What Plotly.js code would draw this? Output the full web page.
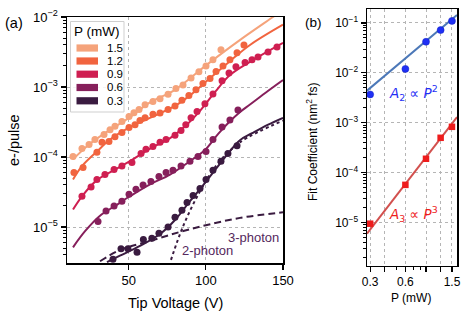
<!DOCTYPE html>
<html><head><meta charset="utf-8">
<script src="https://cdn.plot.ly/plotly-3.0.1.min.js"></script>
<style>html,body{margin:0;padding:0;background:#fff}#chart{width:469px;height:316px}</style>
</head><body><div id="chart"></div>
<script>
// ---------- Panel (a) data: tip voltage (V) vs electrons per pulse ----------
const powers = ['1.5', '1.2', '0.9', '0.6', '0.3'];

const v15 = [13.9,19.7,24.3,28.1,34.0,37.9,41.1,45.6,50.2,53.4,56.7,60.6,65.7,70.3,75.5,80.6,85.2,90.4,95.5,100.1,104.6,109.8];
const y15 = [1.02e-4,1.32e-4,1.51e-4,1.78e-4,2.09e-4,2.45e-4,2.74e-4,3.22e-4,3.8e-4,4.3e-4,4.76e-4,5.6e-4,6.2e-4,6.8e-4,7.9e-4,9.5e-4,1.07e-3,1.35e-3,1.65e-3,2.0e-3,2.45e-3,3.4e-3];
const fv15 = [13.9,24.9,37.9,50.2,63.8,80,100.7,122,143.5,150];
const fy15 = [9.3e-5,1.55e-4,2.45e-4,3.63e-4,6.03e-4,9.12e-4,2.09e-3,4.68e-3,1.0e-2,1.26e-2];

const v12 = [14.5,20.4,29.4,32.7,37.2,41.1,45.6,50.2,54.1,57.3,60.6,65.7,70.3,75.5,80.0,84.5,89.0,93.6,98.1,102.7,106.6,111.1,115.6,120.2,124.7];
const y12 = [6.0e-5,7.1e-5,1.17e-4,1.62e-4,1.66e-4,1.95e-4,2.24e-4,2.63e-4,2.88e-4,3.31e-4,3.63e-4,4.07e-4,4.27e-4,4.79e-4,5.37e-4,6.46e-4,7.59e-4,9.12e-4,1.12e-3,1.32e-3,1.66e-3,2.0e-3,2.45e-3,3.09e-3,3.98e-3];
const fv12 = [13.9,19.7,29.4,37.9,50.2,63.8,80,89.7,100.7,115.6,128.6,150];
const fy12 = [4.79e-5,7.41e-5,1.20e-4,1.78e-4,2.63e-4,3.63e-4,5.37e-4,7.59e-4,1.23e-3,2.34e-3,3.98e-3,7.76e-3];

const v09 = [19.7,25.6,29.4,34.6,40.5,45.6,52.1,58.0,61.2,65.7,70.3,74.2,80.0,83.9,87.0,90.4,94.3,99.4,104.6,110.5,115.0,119.5,125.4,129.9,133.8,140.3,146.1];
const y09 = [2.75e-5,3.72e-5,4.79e-5,5.62e-5,6.61e-5,7.41e-5,8.32e-5,1.12e-4,1.29e-4,1.41e-4,1.62e-4,1.78e-4,2.04e-4,2.40e-4,2.9e-4,3.63e-4,4.47e-4,5.75e-4,7.94e-4,1.23e-3,1.58e-3,1.95e-3,2.24e-3,2.45e-3,2.69e-3,3.16e-3,3.72e-3];
const fv09 = [13.9,19.7,29.4,41.1,50.8,63.8,76.8,86.5,96.2,106,115.6,128.6,150];
const fy09 = [1.78e-5,2.75e-5,4.68e-5,6.61e-5,8.71e-5,1.32e-4,1.86e-4,2.75e-4,4.57e-4,8.51e-4,1.48e-3,2.29e-3,4.27e-3];

const v06 = [30.1,35.3,40.5,45.6,50.2,54.7,59.3,64.4,69.6,74.2,78.7,83.9,89.7,94.9,100.1,104.6,110.5,115.6,120.8];
const y06 = [1.20e-5,1.70e-5,2.00e-5,2.34e-5,2.95e-5,3.47e-5,3.98e-5,4.47e-5,5.25e-5,6.03e-5,6.46e-5,7.41e-5,8.71e-5,1.02e-4,1.20e-4,1.78e-4,2.69e-4,3.39e-4,4.68e-4];
const fv06 = [13.9,21.7,31.4,41.1,50.8,63.8,76.8,89.7,99.4,108,115.6,122,128.6,140,150];
const fy06 = [5.13e-6,8.71e-6,1.45e-5,2.0e-5,2.75e-5,4.07e-5,5.62e-5,8.71e-5,1.26e-4,2.14e-4,3.24e-4,4.37e-4,5.62e-4,8.71e-4,1.26e-3];

const v03 = [39.8,45.0,49.5,55.4,59.5,65.0,69.6,75.5,80.0,84.5,87.8,91.7,96.2,100.1,104.6,109.8,114.3,120.2];
const y03 = [3.47e-6,4.90e-6,4.90e-6,4.37e-6,6.61e-6,6.92e-6,8.13e-6,1.0e-5,1.38e-5,1.74e-5,2.24e-5,2.82e-5,3.55e-5,4.79e-5,6.46e-5,8.71e-5,1.12e-4,1.45e-4];
const fv03 = [35.9,44.3,57.3,70.3,80,89.7,96.2,107.9,115,122.1,130,140,150];
const fy03 = [3.16e-6,3.89e-6,5.37e-6,7.94e-6,1.26e-5,2.34e-5,3.47e-5,7.41e-5,1.17e-4,1.74e-4,2.19e-4,2.88e-4,3.63e-4];

// component curves of the 0.3 mW fit
const v3ph = [31.4,44.3,63.8,83.2,100.7,122.1,150];
const y3ph = [3.24e-6,4.68e-6,6.31e-6,8.51e-6,1.07e-5,1.35e-5,1.62e-5];
const v2ph = [77.4,85.2,96.2,107.2,122.1,150];
const y2ph = [3.39e-6,1.02e-5,3.24e-5,7.76e-5,1.62e-4,3.31e-4];

// ---------- Panel (b) data: fit coefficients vs power ----------
const pw = [0.3, 0.6, 0.9, 1.2, 1.5];
const a2 = [3.7e-3, 1.2e-2, 4.2e-2, 7.2e-2, 0.11];
const a3 = [9.5e-6, 5.7e-5, 1.9e-4, 5.0e-4, 8.3e-4];
const fitP = [0.282, 1.656];
const fitA2 = [4.4e-3, 0.145];
const fitA3 = [6.0e-6, 1.3e-3];

const xTicksB = [0.3, 0.4, 0.6, 0.9, 1.2, 1.5];
const xTickTextB = ['0.3', '', '0.6', '', '', '1.5'];

// ---------- styling ----------
const colors = {'1.5':'#f5a37b','1.2':'#f1643f','0.9':'#cf1f51','0.6':'#861f5b','0.3':'#3a1b40'};
const W = 469, H = 316;
const px = x => x / W, py = y => 1 - y / H;
const FONT = 'Liberation Sans, Arial, sans-serif';

const series = [
  ['1.5', v15, y15, fv15, fy15],
  ['1.2', v12, y12, fv12, fy12],
  ['0.9', v09, y09, fv09, fy09],
  ['0.6', v06, y06, fv06, fy06],
  ['0.3', v03, y03, fv03, fy03]
];

const traces = [];
series.forEach(([p, vx, vy, fx, fy]) => {
  traces.push({x: fx, y: fy, mode: 'lines', line: {color: colors[p], width: 2, shape: 'spline', smoothing: 1},
    xaxis: 'x', yaxis: 'y', hoverinfo: 'skip', showlegend: false, cliponaxis: true});
  traces.push({x: vx, y: vy, mode: 'markers', marker: {color: colors[p], size: 7},
    xaxis: 'x', yaxis: 'y', showlegend: false, cliponaxis: true});
});
traces.push({x: v3ph, y: y3ph, mode: 'lines', line: {color: colors['0.3'], width: 2, dash: '7px,4px', shape: 'spline'},
  xaxis: 'x', yaxis: 'y', showlegend: false});
traces.push({x: v2ph, y: y2ph, mode: 'lines', line: {color: colors['0.3'], width: 2, dash: 'dot', shape: 'spline'},
  xaxis: 'x', yaxis: 'y', showlegend: false});

// panel b
traces.push({x: fitP, y: fitA2, mode: 'lines', line: {color: '#4c78b8', width: 2}, xaxis: 'x2', yaxis: 'y2', showlegend: false});
traces.push({x: fitP, y: fitA3, mode: 'lines', line: {color: '#d2504e', width: 2}, xaxis: 'x2', yaxis: 'y2', showlegend: false});
traces.push({x: pw, y: a2, mode: 'markers', marker: {color: '#1f2ff5', size: 7, symbol: 'circle', line: {color: '#1020c0', width: 0.5}},
  xaxis: 'x2', yaxis: 'y2', showlegend: false, cliponaxis: false});
traces.push({x: pw, y: a3, mode: 'markers', marker: {color: '#ee1c1c', size: 6.5, symbol: 'square'},
  xaxis: 'x2', yaxis: 'y2', showlegend: false, cliponaxis: false});

function minorLog(lo, hi) {
  const out = [];
  for (let e = lo; e <= hi; e++) for (let m = 2; m <= 9; m++) out.push(m * Math.pow(10, e));
  return out;
}
const sup = e => '10<sup>\u2212' + e + '</sup>';

const axBase = {showline: true, linecolor: '#000', linewidth: 1.5, mirror: true, ticks: 'outside',
  tickcolor: '#000', tickwidth: 1.2, ticklen: 5, showgrid: true, gridcolor: '#b5b5b5', griddash: 'dot', gridwidth: 1,
  zeroline: false, automargin: false};

const layout = {
  width: W, height: H, margin: {l: 0, r: 0, t: 0, b: 0}, paper_bgcolor: '#fff', plot_bgcolor: '#fff',
  font: {family: FONT, color: '#000', size: 13},
  showlegend: false,
  xaxis: Object.assign({}, axBase, {domain: [px(67), px(283)], range: [10, 150], tickvals: [50, 100, 150],
    ticktext: ['50', '100', '150'], tickfont: {size: 13, family: FONT}, anchor: 'y'}),
  yaxis: Object.assign({}, axBase, {domain: [py(263), py(17)], type: 'log', range: [-5.514, -2],
    tickvals: [1e-5, 1e-4, 1e-3, 1e-2], ticktext: [sup(5), sup(4), sup(3), sup(2)], tickfont: {size: 13, family: FONT},
    minor: {ticks: 'outside', ticklen: 3, tickcolor: '#000', tickwidth: 1, tickmode: 'array', tickvals: minorLog(-6, -3), showgrid: false},
    anchor: 'x'}),
  xaxis2: Object.assign({}, axBase, {domain: [px(367), px(457)], type: 'log', range: [Math.log10(0.282), Math.log10(1.656)],
    tickvals: xTicksB, ticktext: xTickTextB, tickfont: {size: 12, family: FONT},
    minor: {ticks: 'outside', ticklen: 3, tickcolor: '#000', tickwidth: 1, tickmode: 'array', tickvals: [0.5, 0.7, 0.8], showgrid: false},
    anchor: 'y2'}),
  yaxis2: Object.assign({}, axBase, {domain: [py(265.5), py(9)], type: 'log', range: [-5.86, -0.72],
    tickvals: [1e-5, 1e-4, 1e-3, 1e-2, 1e-1], ticktext: [sup(5), sup(4), sup(3), sup(2), sup(1)], tickfont: {size: 12, family: FONT},
    minor: {ticks: 'outside', ticklen: 3, tickcolor: '#000', tickwidth: 1, tickmode: 'array', tickvals: minorLog(-6, -1), showgrid: false},
    anchor: 'x2'}),
  shapes: [],
  annotations: []
};

// legend drawn in paper coordinates
layout.shapes.push({type: 'rect', xref: 'paper', yref: 'paper', x0: px(70.5), x1: px(124), y0: py(112), y1: py(21.5),
  line: {color: '#cfcfcf', width: 1}, fillcolor: 'rgba(255,255,255,0.85)', layer: 'above'});
const rowY = [48, 61, 74.2, 87.5, 100.8];
powers.forEach((p, i) => {
  layout.shapes.push({type: 'rect', xref: 'paper', yref: 'paper', x0: px(76.5), x1: px(98), y0: py(rowY[i] + 3.6), y1: py(rowY[i] - 3.6),
    line: {width: 0}, fillcolor: colors[p], layer: 'above'});
  layout.annotations.push({xref: 'paper', yref: 'paper', x: px(105), y: py(rowY[i]), text: p, showarrow: false,
    xanchor: 'left', yanchor: 'middle', font: {size: 11.5, family: FONT}});
});
layout.annotations.push({xref: 'paper', yref: 'paper', x: px(97), y: py(32), text: 'P (mW)', showarrow: false,
  xanchor: 'center', yanchor: 'middle', font: {size: 13.5, family: FONT}});

// titles and labels
const ann = (x, y, text, opts) => layout.annotations.push(Object.assign({xref: 'paper', yref: 'paper', x: px(x), y: py(y), text: text,
  showarrow: false, xanchor: 'center', yanchor: 'middle', font: {size: 14, family: FONT}}, opts || {}));
ann(175, 303, 'Tip Voltage (V)', {font: {size: 14.5, family: FONT}});
ann(14, 140, 'e-/pulse', {textangle: -90, font: {size: 14.5, family: FONT}});
ann(14, 23, '(a)', {font: {size: 14.5, family: FONT}});
ann(313, 23, '(b)', {font: {size: 13.5, family: FONT}});
ann(411, 298, 'P (mW)', {font: {size: 12, family: FONT}});
ann(312, 142, 'Fit Coefficient (nm<sup>2</sup> fs)', {textangle: -90, font: {size: 12, family: FONT}});
ann(253, 237, '3-photon', {font: {size: 13, family: FONT, color: '#55285d'}});
ann(207, 250, '2-photon', {font: {size: 13, family: FONT, color: '#55285d'}});
ann(413, 93, '<i>A</i><sub>2</sub> \u221d <i>P</i><sup>2</sup>', {font: {size: 13.5, family: 'DejaVu Sans, sans-serif', color: '#1f2ff5'}});
ann(413, 214, '<i>A</i><sub>3</sub> \u221d <i>P</i><sup>3</sup>', {font: {size: 13.5, family: 'DejaVu Sans, sans-serif', color: '#ee1c1c'}});

Plotly.newPlot('chart', traces, layout, {staticPlot: true, displayModeBar: false});
</script></body></html>
